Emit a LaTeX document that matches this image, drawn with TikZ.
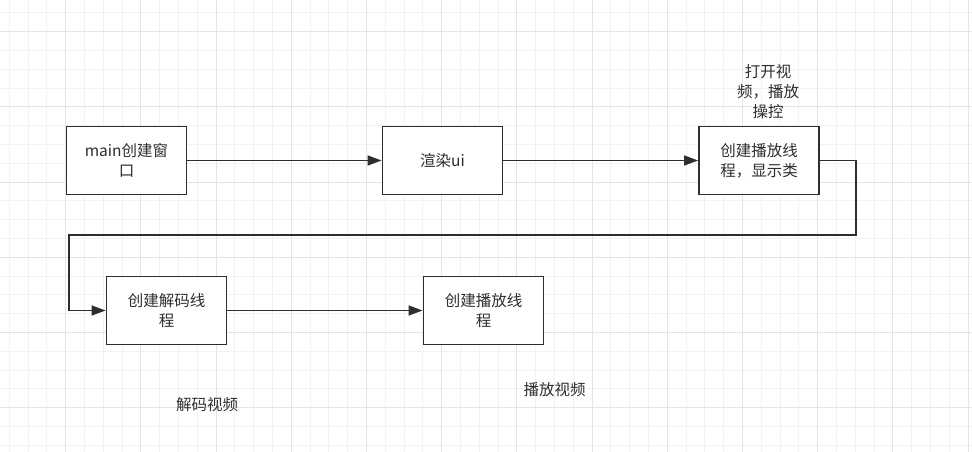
\documentclass[tikz,border=0pt]{standalone}
\usepackage{fontspec}
\setmainfont{Noto Sans CJK SC}
\usetikzlibrary{arrows.meta}
\definecolor{ink}{HTML}{2E2E2E}
\definecolor{gridminor}{HTML}{F2F2F2}
\definecolor{gridmajor}{HTML}{E4E4E4}
\begin{document}
\begin{tikzpicture}[x=1pt,y=-1pt,
  boxnode/.style={draw=ink, line width=1.9pt, fill=white, minimum width=120pt, minimum height=68pt,
    align=center, font=\fontsize{15.5}{20}\selectfont, text=ink, inner sep=0pt},
  lbl/.style={align=center, font=\fontsize{15.5}{20}\selectfont, text=ink, inner sep=0pt},
  conn/.style={draw=ink, line width=1.5pt, -{Triangle[length=14pt,width=10pt]}},
  minorline/.style={draw=gridminor, line width=1pt},
  majorline/.style={draw=gridmajor, line width=1pt}]
\fill[white] (0,0) rectangle (972,452);
\useasboundingbox (0,0) rectangle (972,452);
% grid
\foreach \k in {-3,...,48} {
  \pgfmathsetmacro{\gx}{65.7+18.8*\k}
  \draw[minorline] (\gx,0) -- (\gx,452);
}
\foreach \k in {-1,...,22} {
  \pgfmathsetmacro{\gy}{31.7+18.8*\k}
  \draw[minorline] (0,\gy) -- (972,\gy);
}
\foreach \k in {-1,...,12} {
  \pgfmathsetmacro{\gx}{65.7+75.2*\k}
  \draw[majorline] (\gx,0) -- (\gx,452);
}
\foreach \k in {-1,...,6} {
  \pgfmathsetmacro{\gy}{31.7+75.2*\k}
  \draw[majorline] (0,\gy) -- (972,\gy);
}
% boxes
\node[boxnode] (b1) at (126.5,160.5) {main创建窗\\口};
\node[boxnode] (b2) at (442.5,160.5) {渲染ui};
\node[boxnode] (b3) at (759,160.5) {创建播放线\\程，显示类};
\node[boxnode] (b4) at (166.5,310.5) {创建解码线\\程};
\node[boxnode] (b5) at (483.5,310.5) {创建播放线\\程};
% labels
\node[lbl] (l1) at (768,92) {打开视\\频，播放\\操控};
\node[lbl] (l2) at (207,405) {解码视频};
\node[lbl] (l3) at (554.5,390) {播放视频};
% connectors
\coordinate (c2) at (856,235);
\coordinate (c3) at (69,235);
\draw[conn] (b1.east) -- (b2.west);
\draw[conn] (b2.east) -- (b3.west);
\draw[conn] (b3.east) -| (c2) -- (c3) |- (b4.west);
\draw[conn] (b4.east) -- (b5.west);
\end{tikzpicture}
\end{document}
